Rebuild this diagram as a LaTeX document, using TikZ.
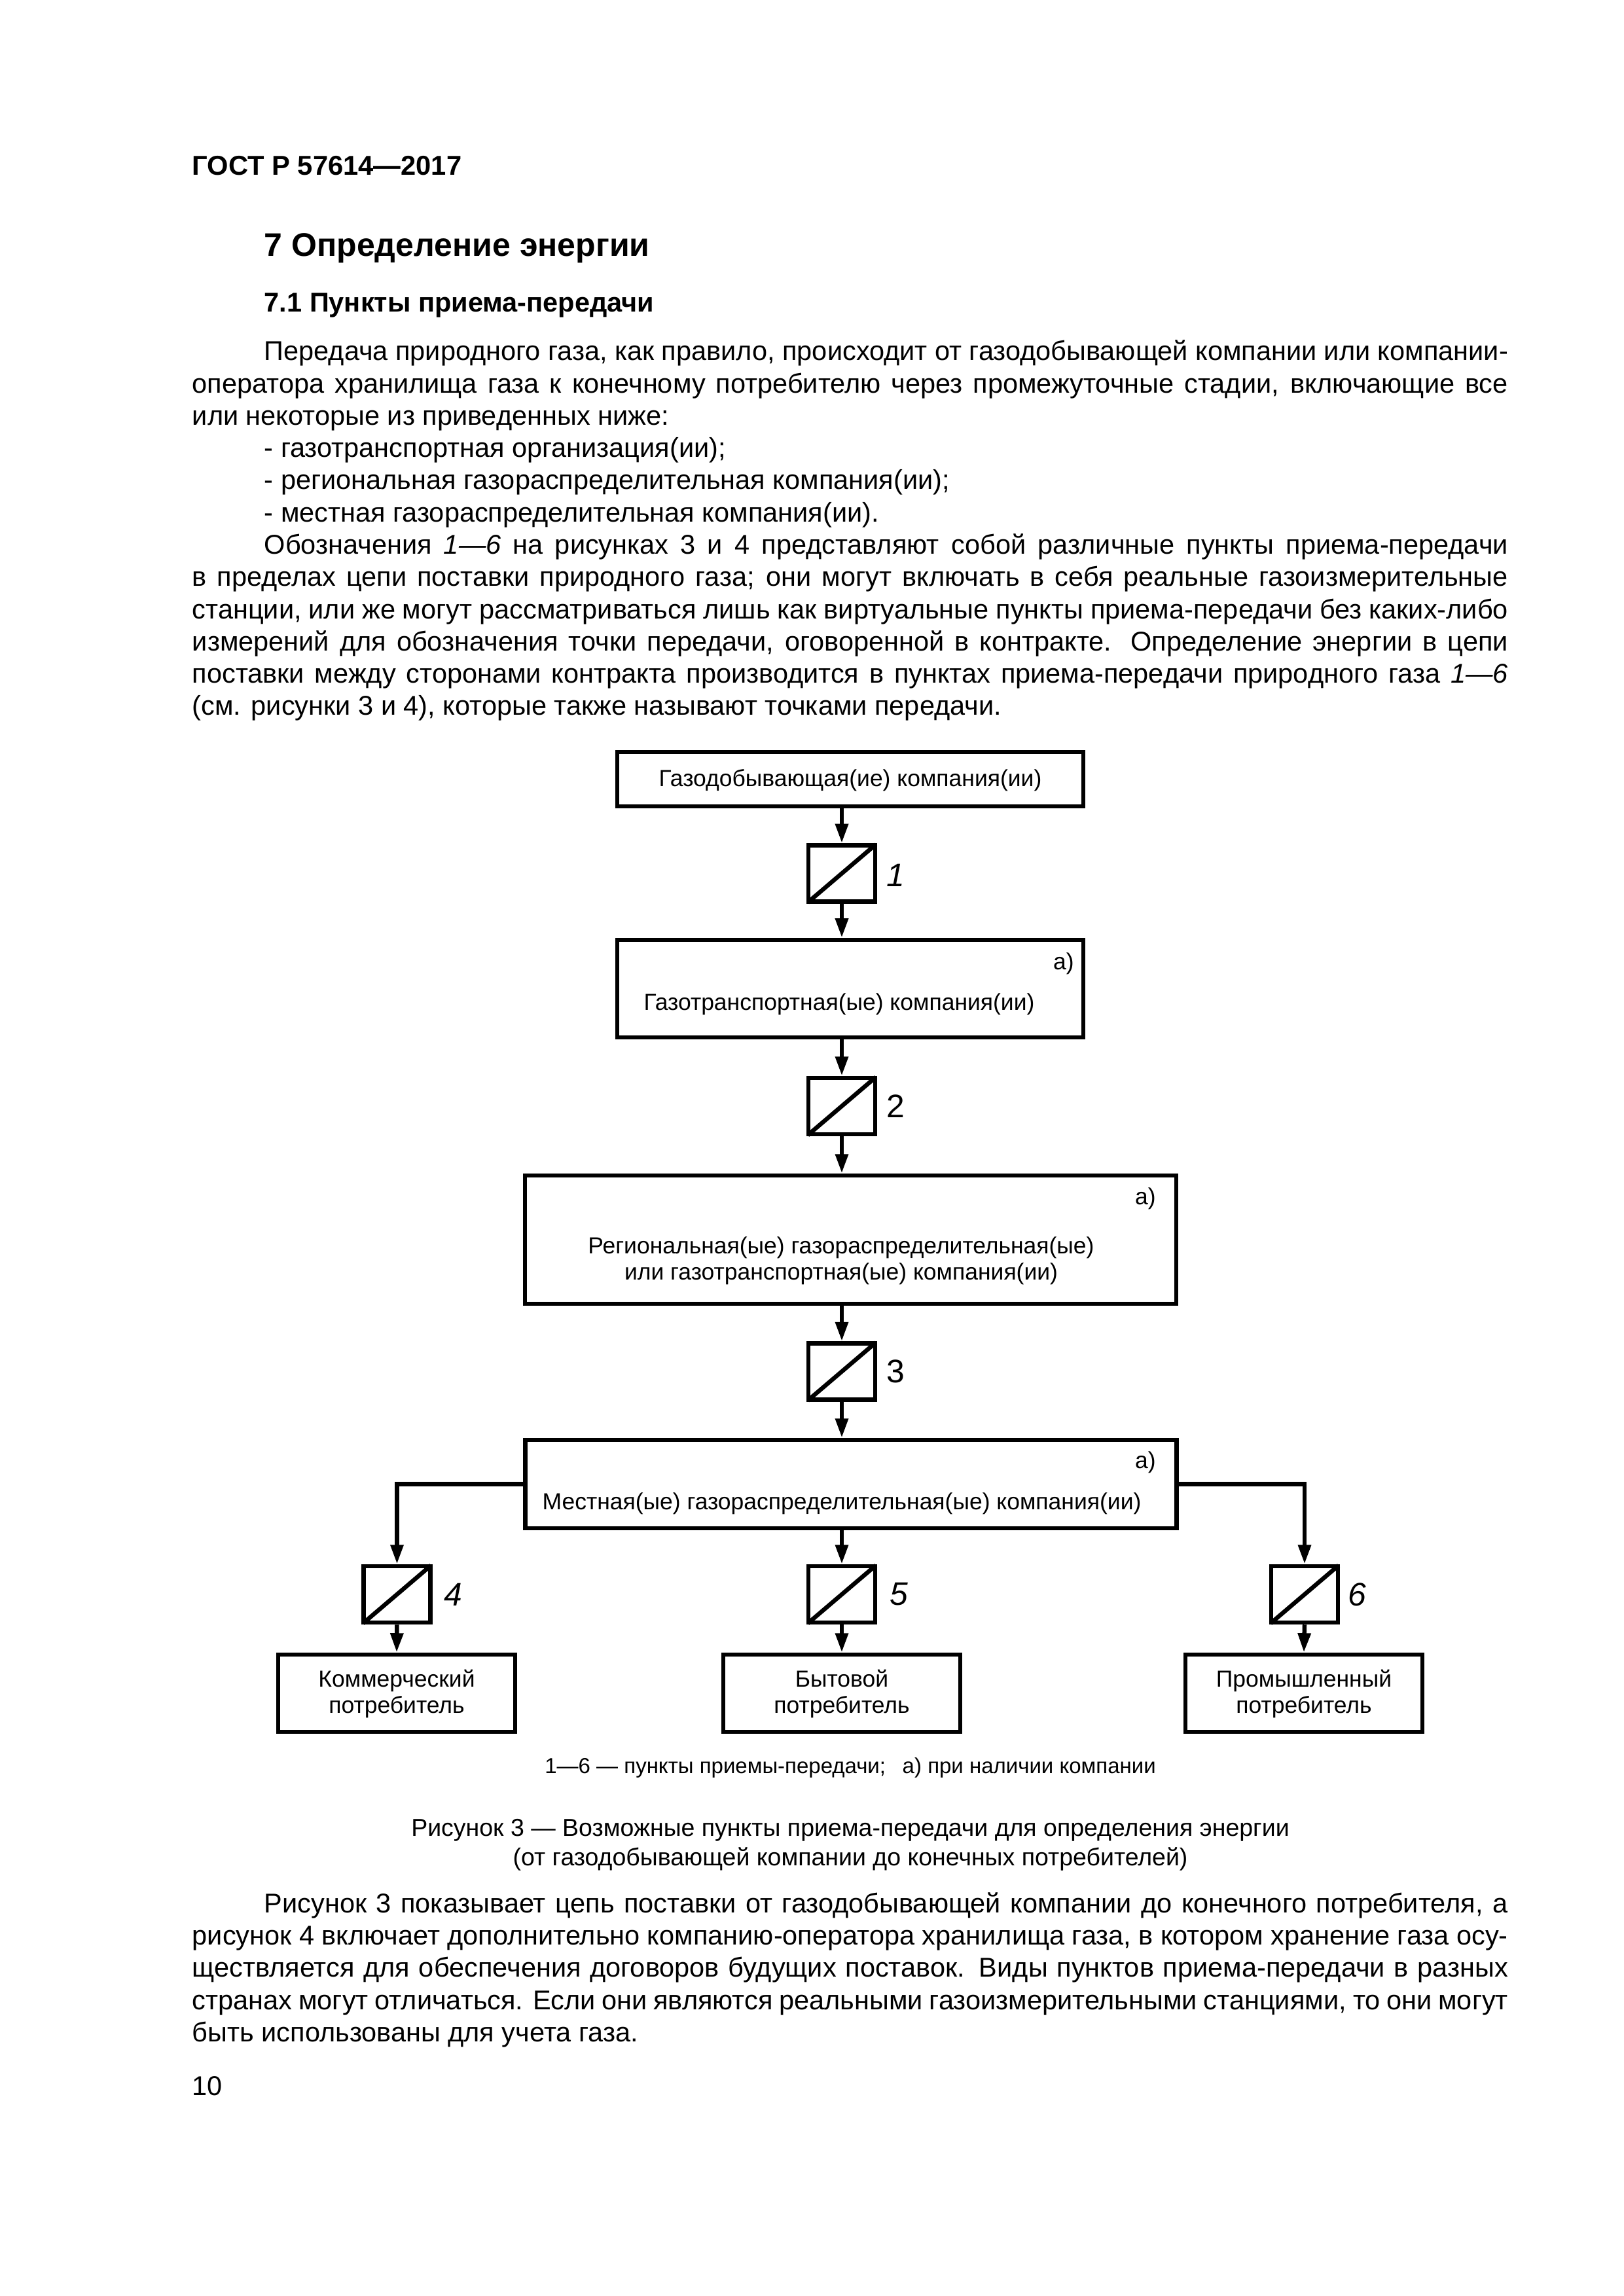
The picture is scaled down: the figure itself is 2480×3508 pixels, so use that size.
\documentclass[tikz,border=0pt]{standalone}
\usepackage{fontspec}
\setmainfont{Liberation Sans}
\usetikzlibrary{arrows.meta}
\def\pxu{0.08468mm}
\newcommand{\krasn}{\hspace*{9.31mm}}
\tikzset{
    blok/.style={draw, line width=0.55mm, minimum width=#1*\pxu, inner sep=0pt},
    datchik/.style={draw, line width=0.55mm, minimum width=102*\pxu, minimum height=86*\pxu, inner sep=0pt},
    strelka/.style={line width=0.55mm, -{Triangle[length=2.5mm,width=1.6mm]}},
    tekst/.style={inner sep=0pt, font=\fontsize{8.55pt}{9.6pt}\selectfont, align=center},
    nomer/.style={inner sep=0pt, font=\fontsize{12pt}{14pt}\selectfont},
    abzac/.style={inner sep=0pt, anchor=north west, text width=2010*\pxu, align=justify, font=\fontsize{10pt}{11.87pt}\selectfont},
    zagol/.style={inner sep=0pt, anchor=base west, font=\fontsize{#1}{14pt}\selectfont\bfseries},
    podpis/.style={inner sep=0pt, align=center, font=\fontsize{9.03pt}{10.9pt}\selectfont}
}
\begin{document}
\begin{tikzpicture}[x=\pxu, y=-\pxu]
    \useasboundingbox (0,0) rectangle (2480,3508);
    \tolerance=9999

    % Заголовки
    \node[zagol=10.05pt] (gost) at (293,267) {ГОСТ Р 57614—2017};
    \node[zagol=12.05pt] (razdel) at (403,391) {7 Определение энергии};
    \node[zagol=10pt] (punkt) at (403,476) {7.1 Пункты приема-передачи};

    % Текст
    \node[abzac] (abz1) at (293,515.6) {\strut\krasn Передача природного газа, как правило, происходит от газодобывающей компании или компании-\linebreak оператора хранилища газа к конечному потребителю через промежуточные стадии, включающие все\linebreak или некоторые из приведенных ниже:\\
    \krasn - газотранспортная организация(ии);\\
    \krasn - региональная газораспределительная компания(ии);\\
    \krasn - местная газораспределительная компания(ии).\\
    \krasn Обозначения \textit{1—6} на рисунках 3 и 4 представляют собой различные пункты приема-передачи\linebreak в пределах цепи поставки природного газа; они могут включать в себя реальные газоизмерительные\linebreak станции, или же могут рассматриваться лишь как виртуальные пункты приема-передачи без каких-либо\linebreak измерений для обозначения точки передачи, оговоренной в контракте. Определение энергии в цепи\linebreak поставки между сторонами контракта производится в пунктах приема-передачи природного газа \textit{1—6}\linebreak (см. рисунки 3 и 4), которые также называют точками передачи.};
    \node[abzac] (abz2) at (293,2887) {\strut\krasn Рисунок 3 показывает цепь поставки от газодобывающей компании до конечного потребителя, а\linebreak рисунок 4 включает дополнительно компанию-оператора хранилища газа, в котором хранение газа осу-\linebreak ществляется для обеспечения договоров будущих поставок. Виды пунктов приема-передачи в разных\linebreak странах могут отличаться. Если они являются реальными газоизмерительными станциями, то они могут\linebreak быть использованы для учета газа.};
    \node[podpis, font=\fontsize{10pt}{11.78pt}\selectfont, anchor=base west] (stranica) at (293,3201) {10};

    % Блоки
    \node[blok=712, minimum height=83*\pxu] (dobycha) at (1299,1190.5) {};
    \node[blok=712, minimum height=149*\pxu] (transport) at (1299,1510.5) {};
    \node[blok=995, minimum height=196*\pxu] (region) at (1299.5,1894) {};
    \node[blok=995, minimum height=135*\pxu] (mestnaya) at (1300,2267.5) {};
    \node[blok=362, minimum height=118*\pxu] (kommerch) at (606,2587) {};
    \node[blok=362, minimum height=118*\pxu] (bytovoi) at (1286,2587) {};
    \node[blok=362, minimum height=118*\pxu] (prom) at (1992,2587) {};

    % Надписи в блоках
    \node[tekst] (tdobycha) at (1299,1192) {Газодобывающая(ие) компания(ии)};
    \node[tekst] (ttransport) at (1282,1534) {Газотранспортная(ые) компания(ии)};
    \node[tekst] (tregion) at (1285,1926) {Региональная(ые) газораспределительная(ые)\\или газотранспортная(ые) компания(ии)};
    \node[tekst] (tmestnaya) at (1286,2297) {Местная(ые) газораспределительная(ые) компания(ии)};
    \node[tekst] (tkommerch) at (606,2588) {Коммерческий\\потребитель};
    \node[tekst] (tbytovoi) at (1286,2588) {Бытовой\\потребитель};
    \node[tekst] (tprom) at (1992,2588) {Промышленный\\потребитель};
    \node[tekst] (a1) at (1625,1472) {а)};
    \node[tekst] (a2) at (1750,1831) {а)};
    \node[tekst] (a3) at (1750,2234) {а)};

    % Пункты приема-передачи
    \foreach \nam/\x/\y/\xn/\yn/\fnt in {1/1286/1334.5/1368/1337/\itshape, 2/1286/1690/1368/1690/\upshape,
        3/1286/2095.5/1368/2095/\upshape, 4/606.5/2436/692/2436/\itshape, 5/1286/2436/1373/2436/\itshape, 6/1993/2436/2073/2436/\itshape} {
        \node[datchik] (p\nam) at (\x,\y) {};
        \draw[line width=0.55mm, shorten <=0.25mm, shorten >=0.25mm] (p\nam.south west) -- (p\nam.north east);
        \node[nomer] (n\nam) at (\xn,\yn) {\fnt\nam};
    }

    % Стрелки
    \draw[strelka] (p1.north |- dobycha.south) -- (p1.north);
    \draw[strelka] (p1.south) -- (p1.south |- transport.north);
    \draw[strelka] (p2.north |- transport.south) -- (p2.north);
    \draw[strelka] (p2.south) -- (p2.south |- region.north);
    \draw[strelka] (p3.north |- region.south) -- (p3.north);
    \draw[strelka] (p3.south) -- (p3.south |- mestnaya.north);
    \draw[strelka] (mestnaya.west) -| (p4.north);
    \draw[strelka] (p5.north |- mestnaya.south) -- (p5.north);
    \draw[strelka] (mestnaya.east) -| (p6.north);
    \draw[strelka] (p4.south) -- (kommerch.north);
    \draw[strelka] (p5.south) -- (bytovoi.north);
    \draw[strelka] (p6.south) -- (prom.north);

    % Подпись
    \node[podpis, font=\fontsize{7.95pt}{10pt}\selectfont] (primech) at (1299,2701) {1—6 — пункты приемы-передачи;\hspace{0.5em} а) при наличии компании};
    \node[podpis] (risunok) at (1299,2819) {Рисунок 3 — Возможные пункты приема-передачи для определения энергии\\(от газодобывающей компании до конечных потребителей)};
\end{tikzpicture}
\end{document}
